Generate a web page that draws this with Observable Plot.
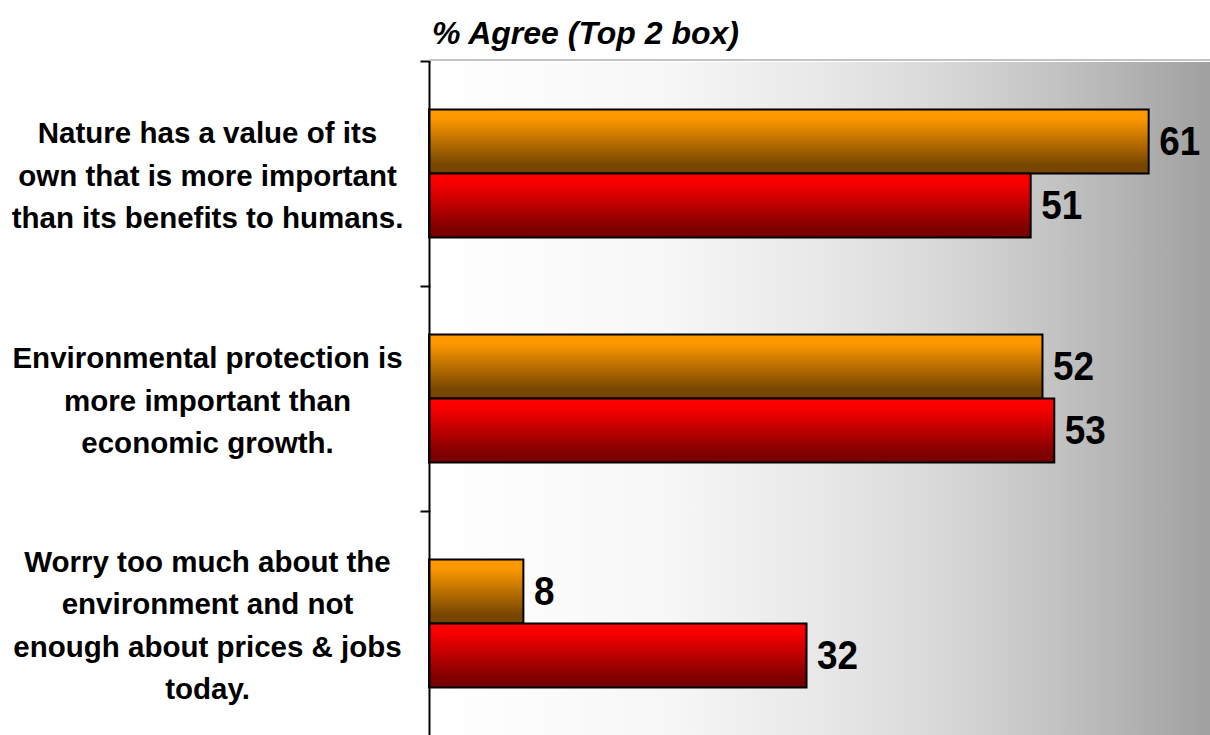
<!DOCTYPE html>
<html>
<head>
<meta charset="utf-8">
<script src="https://cdn.jsdelivr.net/npm/d3@7"></script>
<script src="https://cdn.jsdelivr.net/npm/@observablehq/plot@0.6"></script>
<style>
  html, body { margin: 0; padding: 0; background: #ffffff; }
  #wrap { width: 1210px; }
  #title { position: relative; height: 61px; }
  #title span { position: absolute; left: 432px; top: 15px; line-height: 32px; white-space: nowrap;
    font: italic bold 32px "Liberation Sans", Arial, sans-serif; color: #000; }
  #title .topline { position: absolute; left: 429px; right: 0; bottom: 0; height: 2px; background: #c4c4c4; }
  svg { overflow: visible; }
</style>
</head>
<body>
<div id="wrap">
  <div id="title"><span>% Agree (Top 2 box)</span><div class="topline"></div></div>
  <div id="chart"></div>
</div>
<script>
// ---- data ----
const categories = [
  "Nature has a value of its\nown that is more important\nthan its benefits to humans.",
  "Environmental protection is\nmore important than\neconomic growth.",
  "Worry too much about the\nenvironment and not\nenough about prices & jobs\ntoday."
];
const series = ["Series 1", "Series 2"];
const valuesSeries1 = [61, 52, 8];
const valuesSeries2 = [51, 53, 32];

const data = [];
categories.forEach((c, i) => {
  data.push({category: c, series: series[0], value: valuesSeries1[i]});
  data.push({category: c, series: series[1], value: valuesSeries2[i]});
});

const labelFont = '"Liberation Sans", Arial, sans-serif';
const valueFont = '"Liberation Sans", Arial, sans-serif';

const svg = Plot.plot({
  width: 1210,
  height: 675,
  marginLeft: 429,
  marginRight: 0,
  marginTop: 0,
  marginBottom: 0,
  style: {background: "transparent"},
  x: {domain: [0, 66.2], axis: null},
  y: {domain: series, axis: null, paddingInner: 0, paddingOuter: 0.758, round: false},
  fy: {domain: categories, axis: null, padding: 0, round: false},
  color: {domain: series, range: ["url(#gOrange)", "url(#gRed)"]},
  marks: [
    Plot.frame({fill: "url(#gBg)", stroke: "none", shapeRendering: "crispEdges"}),
    Plot.barX(data, {x: "value", y: "series", fy: "category", fill: "series", stroke: "#000", strokeWidth: 2}),
    Plot.text(data, {x: "value", y: "series", fy: "category", text: d => String(d.value),
      textAnchor: "start", dx: 10, fontSize: 41, fontWeight: "bold", fontFamily: valueFont, fill: "#000"}),
    Plot.text(categories, {fy: d => d, text: d => d, frameAnchor: "left", dx: -222, dy: -2, textAnchor: "middle",
      lineHeight: 1.44, fontSize: 29.5, fontWeight: "bold", fontFamily: labelFont, fill: "#000"}),
    Plot.ruleX([0], {stroke: "#000", strokeWidth: 2}),
    Plot.frame({anchor: "top", insetLeft: -8, insetRight: 781, stroke: "#000", strokeWidth: 2})
  ]
});

// slightly condensed value labels (tall, narrow digits as in the reference)
d3.select(svg).selectAll('g[font-size="41"] text').each(function() {
  const t = this.getAttribute("transform") || "";
  this.setAttribute("transform", t + " scale(0.9,1)");
});

d3.select(svg).insert("defs", ":first-child").html(`
  <linearGradient id="gBg" x1="0" y1="0" x2="1" y2="0">
    <stop offset="0" stop-color="#ffffff"/>
    <stop offset="0.3" stop-color="#f7f7f7"/>
    <stop offset="0.5" stop-color="#e8e8e8"/>
    <stop offset="0.65" stop-color="#d9d9d9"/>
    <stop offset="0.8" stop-color="#c3c3c3"/>
    <stop offset="1" stop-color="#a0a0a0"/>
  </linearGradient>
  <linearGradient id="gOrange" x1="0" y1="0" x2="0" y2="1">
    <stop offset="0" stop-color="#ff9900"/>
    <stop offset="0.15" stop-color="#fb9700"/>
    <stop offset="0.85" stop-color="#7a4700"/>
    <stop offset="1" stop-color="#764400"/>
  </linearGradient>
  <linearGradient id="gRed" x1="0" y1="0" x2="0" y2="1">
    <stop offset="0" stop-color="#ff0000"/>
    <stop offset="0.15" stop-color="#f80000"/>
    <stop offset="0.85" stop-color="#800000"/>
    <stop offset="1" stop-color="#760000"/>
  </linearGradient>
`);

document.getElementById("chart").appendChild(svg);
</script>
</body>
</html>
